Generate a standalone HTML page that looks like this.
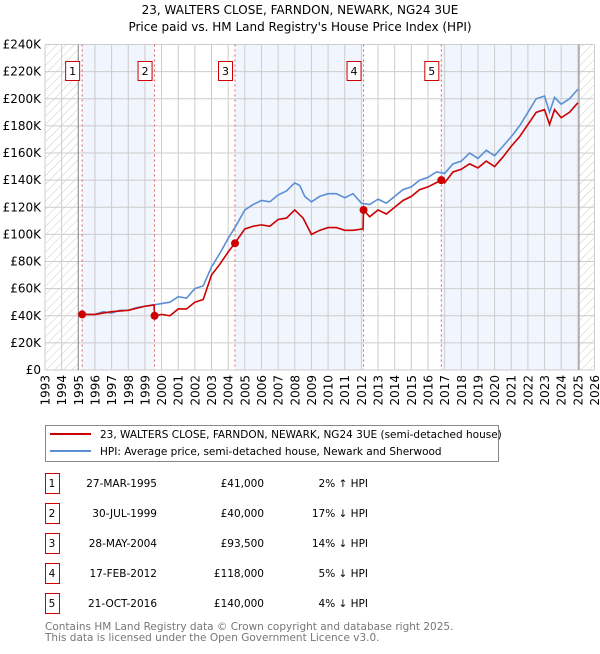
<!DOCTYPE html>
<html><head><meta charset="utf-8"><style>
body{margin:0;background:#fff;font-family:"DejaVu Sans","Liberation Sans",sans-serif;}
svg text{font-family:"DejaVu Sans","Liberation Sans",sans-serif;}
</style></head><body>
<svg id="chart" width="600" height="650" xmlns="http://www.w3.org/2000/svg">
<defs><pattern id="hatch" width="6" height="6" patternUnits="userSpaceOnUse" patternTransform="rotate(45)"><line x1="0" y1="0" x2="0" y2="6" stroke="#ccc" stroke-width="1"/></pattern></defs>
<text x="300" y="14" text-anchor="middle" font-size="12">23, WALTERS CLOSE, FARNDON, NEWARK, NG24 3UE</text>
<text x="300" y="31" text-anchor="middle" font-size="12">Price paid vs. HM Land Registry's House Price Index (HPI)</text>
<g id="plot"></g>
<g>
<rect x="45.5" y="425.5" width="453" height="36" fill="#fff" stroke="#888"/>
<line x1="50" y1="434" x2="91" y2="434" stroke="#cc0000" stroke-width="2"/>
<text x="100" y="438" font-size="10.5">23, WALTERS CLOSE, FARNDON, NEWARK, NG24 3UE (semi-detached house)</text>
<line x1="50" y1="451" x2="91" y2="451" stroke="#5b8fd4" stroke-width="2"/>
<text x="100" y="455" font-size="10.5">HPI: Average price, semi-detached house, Newark and Sherwood</text>
</g>
<g id="table" font-size="10.5"></g>
<text x="45" y="630" font-size="10.5" fill="#777">Contains HM Land Registry data © Crown copyright and database right 2025.</text>
<text x="45" y="641" font-size="10.5" fill="#777">This data is licensed under the Open Government Licence v3.0.</text>
</svg>
<script>
const hpiYears=[1995.2,1995.5,1996,1996.5,1997,1997.5,1998,1998.5,1999,1999.5,2000,2000.5,2001,2001.5,2002,2002.5,2003,2003.5,2004,2004.5,2005,2005.5,2006,2006.5,2007,2007.5,2008,2008.3,2008.6,2009,2009.5,2010,2010.5,2011,2011.5,2012,2012.5,2013,2013.5,2014,2014.5,2015,2015.5,2016,2016.5,2017,2017.5,2018,2018.5,2019,2019.5,2020,2020.5,2021,2021.5,2022,2022.5,2023,2023.3,2023.6,2024,2024.5,2025];
const hpiValues=[41,41,41,43,42,44,44,46,47,48,49,50,54,53,60,62,76,86,97,107,118,122,125,124,129,132,138,136,128,124,128,130,130,127,130,123,122,126,123,128,133,135,140,142,146,145,152,154,160,156,162,158,165,172,180,190,200,202,190,201,196,200,207];
const priceYears=[1995.2,1996,1997,1998,1999,1999.55,1999.58,2000,2000.5,2001,2001.5,2002,2002.5,2003,2003.5,2004,2004.4,2005,2005.5,2006,2006.5,2007,2007.5,2008,2008.5,2009,2009.5,2010,2010.5,2011,2011.5,2012.1,2012.13,2012.5,2013,2013.5,2014,2014.5,2015,2015.5,2016,2016.8,2017,2017.5,2018,2018.5,2019,2019.5,2020,2020.5,2021,2021.5,2022,2022.5,2023,2023.3,2023.6,2024,2024.5,2025];
const priceValues=[41,41,43,44,47,48,40,41,40,45,45,50,52,70,78,87,93.5,104,106,107,106,111,112,118,112,100,103,105,105,103,103,104,118,113,118,115,120,125,128,133,135,140,138,146,148,152,149,154,150,157,165,172,181,190,192,181,192,186,190,197];
const saleYears=[1995.23,1999.58,2004.41,2012.13,2016.8];
const saleValues=[41000,40000,93500,118000,140000];
const saleDates=["27-MAR-1995","30-JUL-1999","28-MAY-2004","17-FEB-2012","21-OCT-2016"];
const salePrices=["£41,000","£40,000","£93,500","£118,000","£140,000"];
const saleHpi=["2% ↑ HPI","17% ↓ HPI","14% ↓ HPI","5% ↓ HPI","4% ↓ HPI"];
const yTicks=[0,20,40,60,80,100,120,140,160,180,200,220,240];
const xTicks=[];for(let y=1993;y<=2026;y++)xTicks.push(y);

const X0=45,X1=594.5,Y0=370,Y1=44.5;
const x=v=>X0+(v-1993)/(2026-1993)*(X1-X0);
const y=v=>Y0-v/240*(Y0-Y1);
const NS="http://www.w3.org/2000/svg";
function mk(p,t,a){const e=document.createElementNS(NS,t);for(const k in a)e.setAttribute(k,a[k]);p.appendChild(e);return e;}
const plot=document.getElementById('plot');
let r;
r=mk(plot,'rect',{x:X0,y:Y1,width:X1-X0,height:Y0-Y1,fill:'#fff'});


const bands=[[saleYears[0],saleYears[1]],[saleYears[2],saleYears[3]],[saleYears[4],2025.07]];
bands.forEach(b=>{const e=mk(plot,'rect',{x:x(b[0]),y:Y1,width:x(b[1])-x(b[0]),height:Y0-Y1,fill:'#eef3fc',opacity:0.8});

});
r=mk(plot,'rect',{x:X0,y:Y1,width:x(1995)-X0,height:Y0-Y1,fill:'url(#hatch)'});


r=mk(plot,'rect',{x:x(2025.07),y:Y1,width:X1-x(2025.07),height:Y0-Y1,fill:'url(#hatch)'});


yTicks.forEach(t=>{const l=mk(plot,'line',{x1:X0,x2:X1,y1:y(t),y2:y(t),stroke:'#ccc','stroke-width':1});


const tx=mk(plot,'text',{x:X0-4,y:y(t)+4,'text-anchor':'end','font-size':12});tx.textContent=t===0?'£0':'£'+t+'K';

});
xTicks.forEach(t=>{const l=mk(plot,'line',{x1:x(t),x2:x(t),y1:Y1,y2:Y0,stroke:'#ccc','stroke-width':1});


const tx=mk(plot,'text',{x:0,y:0,'text-anchor':'end','font-size':12,transform:`translate(${x(t)+4.5},${Y0+5}) rotate(-90)`});tx.textContent=t;

});
r=mk(plot,'line',{x1:x(1995),x2:x(1995),y1:Y1,y2:Y0,stroke:'#888','stroke-width':1});


r=mk(plot,'line',{x1:x(2025.07),x2:x(2025.07),y1:Y1,y2:Y0,stroke:'#888','stroke-width':1});


saleYears.forEach((s,i)=>{const l=mk(plot,'line',{x1:x(s),x2:x(s),y1:Y1,y2:Y0,stroke:'#e06060','stroke-width':1,'stroke-dasharray':'2,3'});


const bx=mk(plot,'rect',{x:x(s)-16.5,y:61.5,width:14,height:19,fill:'#fff',stroke:'#cc0000'});


const tx=mk(plot,'text',{x:x(s)-9.5,y:75,'text-anchor':'middle','font-size':11});tx.textContent=i+1;

});
r=mk(plot,'polyline',{points:hpiYears.map((v,i)=>x(v)+','+y(hpiValues[i])).join(' '),fill:'none',stroke:'#5b8fd4','stroke-width':1.6});


r=mk(plot,'polyline',{points:priceYears.map((v,i)=>x(v)+','+y(priceValues[i])).join(' '),fill:'none',stroke:'#cc0000','stroke-width':1.6});


saleYears.forEach((s,i)=>{const c=mk(plot,'circle',{cx:x(s),cy:y(saleValues[i]/1000),r:4,fill:'#cc0000'});

});
const tb=document.getElementById('table');
saleDates.forEach((d,i)=>{const cy=483+i*30;
const bx=mk(tb,'rect',{x:45.5,y:cy-9.5,width:14,height:20,fill:'#fff',stroke:'#cc0000'});


const vals=[[52,i+1,'middle'],[157,d,'end'],[264,salePrices[i],'end'],[368,saleHpi[i],'end']];
vals.forEach(v=>{const t=mk(tb,'text',{x:v[0],y:cy+4,'text-anchor':v[2]});t.textContent=v[1];

});});
</script>
</body></html>
